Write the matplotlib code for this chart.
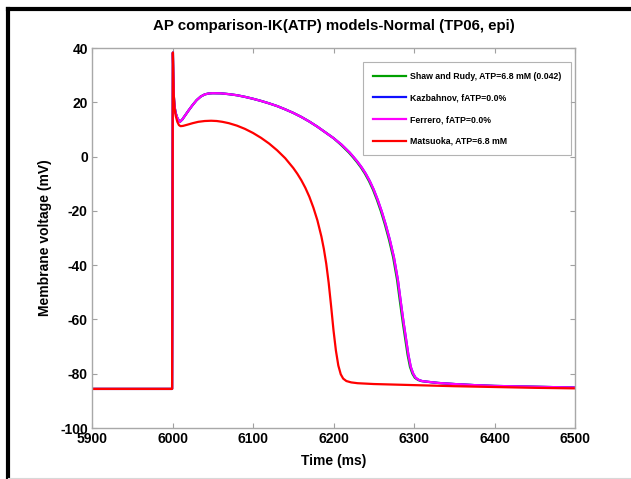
import matplotlib
matplotlib.use("Agg")
import matplotlib.pyplot as plt
from matplotlib.lines import Line2D

plt.rcParams['font.family'] = ['Liberation Sans', 'DejaVu Sans']

# Long AP (Kazbahnov / Ferrero) – time (ms) and voltage (mV)
t_long = [5900, 5999.5, 6000.5, 6001, 6001.5, 6002.5, 6004, 6006, 6008, 6009.5,
          6012, 6016, 6020, 6025, 6030, 6035, 6040, 6045, 6050, 6060, 6070, 6080,
          6090, 6100, 6110, 6120, 6130, 6140, 6150, 6160, 6170, 6180, 6190, 6200,
          6210, 6220, 6225, 6230, 6235, 6240, 6245, 6250, 6255, 6260, 6265, 6270,
          6275, 6280, 6284, 6287, 6290, 6293, 6296, 6299, 6302, 6306, 6310, 6318,
          6330, 6350, 6375, 6400, 6450, 6500]
v_long = [-85.6, -85.6, 38.3, 30.0, 23.0, 18.5, 16.0, 14.2, 13.2, 12.9,
          13.6, 15.3, 17.0, 19.0, 20.8, 22.1, 22.9, 23.25, 23.35, 23.3, 23.0, 22.6,
          22.0, 21.3, 20.5, 19.6, 18.6, 17.4, 16.1, 14.6, 12.9, 11.0, 8.9, 6.8,
          4.4, 1.5, -0.2, -2.0, -4.0, -6.3, -9.0, -12.2, -16.0, -20.3, -25.2, -30.7,
          -37.0, -45.5, -54.5, -61.0, -67.0, -73.0, -77.5, -80.0, -81.5, -82.3, -82.7, -83.0,
          -83.4, -83.8, -84.2, -84.5, -84.8, -85.1]
# Shaw and Rudy: same AP, repolarizes ~1 ms earlier (green edge visible)
t_shaw = [5900, 5999.5, 6000.5, 6001, 6001.5, 6002.5, 6004, 6006, 6008, 6009.5,
          6012, 6016, 6020, 6025, 6030, 6035, 6040, 6045, 6050, 6060, 6070, 6080,
          6090, 6100, 6110, 6120, 6130, 6140, 6150, 6160, 6170, 6180, 6190, 6200,
          6209, 6219, 6224, 6229, 6234, 6239, 6244, 6249, 6254, 6259, 6264, 6269,
          6274, 6279, 6283, 6286, 6289, 6292, 6295, 6298, 6301, 6305, 6309, 6317,
          6330, 6350, 6375, 6400, 6450, 6500]

# Matsuoka AP
t_mat = [5900, 5999.5, 6000.5, 6001, 6001.5, 6002.5, 6004, 6006, 6008, 6010,
         6013, 6018, 6025, 6032, 6040, 6048, 6055, 6062, 6070, 6080, 6090, 6100,
         6110, 6120, 6130, 6140, 6150, 6155, 6160, 6165, 6170, 6175, 6180, 6185,
         6188, 6191, 6194, 6197, 6200, 6203, 6206, 6209, 6212, 6216, 6222, 6230,
         6250, 6300, 6350, 6400, 6450, 6500]
v_mat = [-85.6, -85.6, 38.3, 30.0, 23.0, 18.0, 15.0, 12.8, 11.6, 11.2,
         11.3, 11.7, 12.3, 12.8, 13.1, 13.2, 13.1, 12.8, 12.3, 11.4, 10.2, 8.7,
         6.9, 4.8, 2.3, -0.6, -4.2, -6.3, -8.7, -11.5, -14.8, -18.8, -23.5, -29.5,
         -34.0, -39.5, -46.5, -55.0, -64.0, -71.5, -77.0, -80.2, -81.8, -82.7, -83.2, -83.5,
         -83.8, -84.2, -84.6, -84.9, -85.2, -85.4]

labels = ["Shaw and Rudy, ATP=6.8 mM (0.042)", "Kazbahnov, fATP=0.0%",
          "Ferrero, fATP=0.0%", "Matsuoka, ATP=6.8 mM"]
colors = ["#00a000", "#1010ff", "#ff00ff", "#ff0000"]

xticks = [5900, 6000, 6100, 6200, 6300, 6400, 6500]
yticks = [-100, -80, -60, -40, -20, 0, 20, 40]

W, H = 631, 479
fig = plt.figure(figsize=(W / 100, H / 100), dpi=100)
ax = fig.add_axes([92 / W, 1 - 428 / H, (575 - 92) / W, (428 - 48) / H])

lw = 1.6
ax.plot(t_shaw, v_long, color=colors[0], lw=lw, label=labels[0])
ax.plot(t_long, v_long, color=colors[1], lw=lw, label=labels[1])
ax.plot(t_long, v_long, color=colors[2], lw=lw, label=labels[2])
ax.plot(t_mat, v_mat, color=colors[3], lw=lw, label=labels[3])

ax.set_xlim(5900, 6500)
ax.set_ylim(-100, 40)
ax.set_xticks(xticks)
ax.set_yticks(yticks)
ax.set_xticklabels([str(x) for x in xticks], fontweight='bold', fontsize=10)
ax.set_yticklabels([str(y) for y in yticks], fontweight='bold', fontsize=10)
ax.tick_params(direction='in', length=3.5, width=0.8, color='#a0a0a0',
               top=True, right=True, pad=3)
for s in ax.spines.values():
    s.set_color('#a8a8a8')
    s.set_linewidth(1.0)

ax.set_title("AP comparison-IK(ATP) models-Normal (TP06, epi)",
             fontweight='bold', fontsize=10.8, pad=13)
ax.set_xlabel("Time (ms)", fontweight='bold', fontsize=10, labelpad=6)
ax.set_ylabel("Membrane voltage (mV)", fontweight='bold', fontsize=10, labelpad=6)

leg = ax.legend(loc='upper left', bbox_to_anchor=((363 - 92) / (575 - 92), 1 - (62 - 48) / 380),
                prop={'weight': 'bold', 'size': 6.3}, frameon=True, fancybox=False,
                handlelength=3.8, handletextpad=0.45, labelspacing=1.45,
                borderpad=1.1, borderaxespad=0)
leg.get_frame().set_edgecolor('#a0a0a0')
leg.get_frame().set_linewidth(0.8)

# screenshot frame
fig.add_artist(Line2D([8 / W, 8 / W], [0, 1 - 9 / H], transform=fig.transFigure,
                      color='black', lw=3.0, solid_capstyle='projecting'))
fig.add_artist(Line2D([8 / W, 1], [1 - 9 / H, 1 - 9 / H], transform=fig.transFigure,
                      color='black', lw=3.0, solid_capstyle='projecting'))
fig.add_artist(Line2D([8 / W, 1], [1.5 / H, 1.5 / H], transform=fig.transFigure,
                      color='#d8d8d8', lw=0.8))

fig.savefig("out.png", dpi=100)
